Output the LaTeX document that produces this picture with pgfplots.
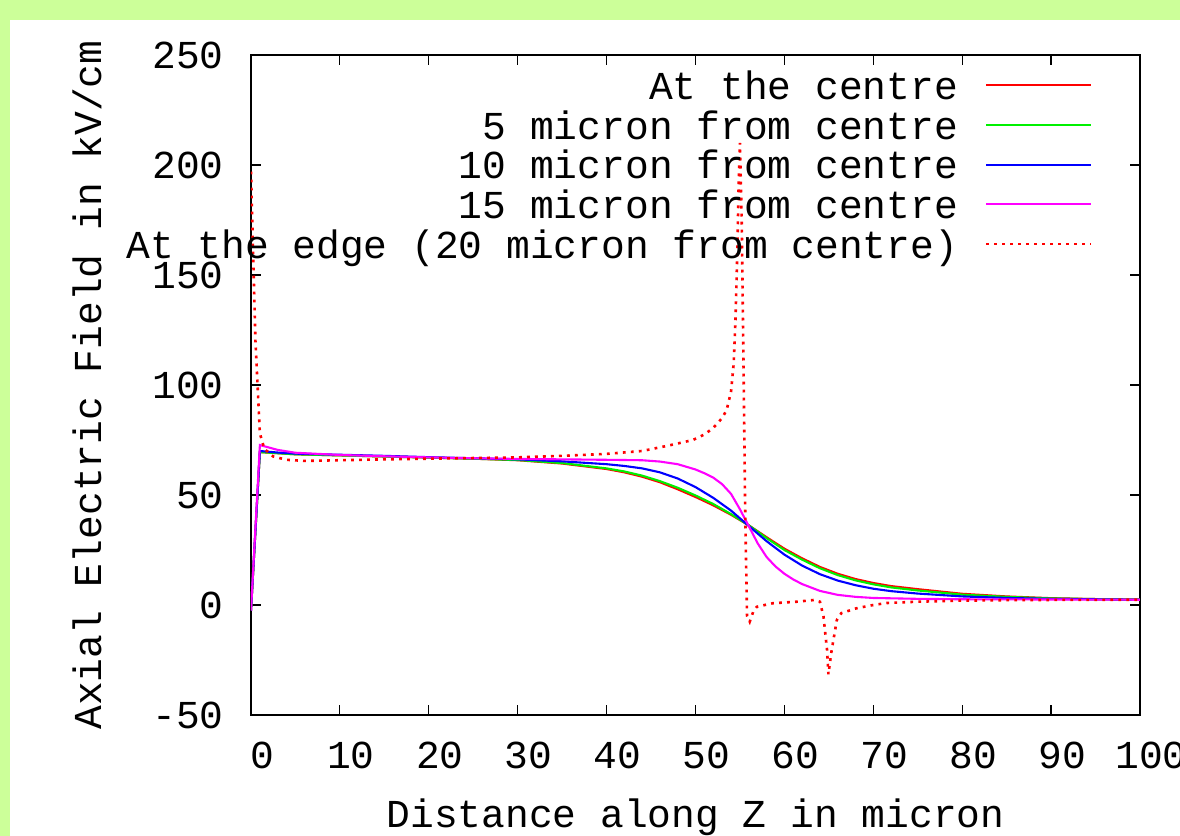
\documentclass[border=0pt]{standalone}
\usepackage{fontspec}
\setmainfont{Liberation Mono}
\usepackage{pgfplots}
\pgfplotsset{compat=1.18}
\definecolor{bggreen}{RGB}{204,255,153}
\definecolor{gpred}{RGB}{255,0,0}
\definecolor{gpgreen}{RGB}{0,240,0}
\definecolor{gpblue}{RGB}{0,0,255}
\definecolor{gpmag}{RGB}{255,0,255}
\begin{document}
\fontsize{19.8pt}{24pt}\selectfont
\begin{tikzpicture}[font=\fontsize{19.8pt}{24pt}\selectfont]
\fill[bggreen] (-125.5pt,-60.5pt) rectangle (464.5pt,357.5pt);
\fill[white] (-120.5pt,-60.5pt) rectangle (464.5pt,347.5pt);
\begin{axis}[
  at={(0pt,0pt)}, anchor=south west,
  scale only axis, width=444.5pt, height=330pt,
  xmin=0, xmax=100, ymin=-50, ymax=250,
  xtick={0,10,...,100},
  xticklabels={0,10,20,30,40,50,60,70,80,90,100},
  ytick={-50,0,50,100,150,200,250},
  yticklabels={-50,0,50,100,150,200,250},
  tick align=inside,
  major tick length=5pt,
  axis line style={line width=0.75pt},
  every tick/.style={black, line width=0.6pt},
  xticklabel style={anchor=center, inner sep=0pt, yshift=-20pt, xshift=5.5pt},
  yticklabel style={anchor=east, inner sep=0pt, xshift=-13.5pt},
  xlabel={Distance along Z in micron},
  ylabel={Axial Electric Field in kV/cm},
  xlabel style={at={(axis description cs:0.5,-0.1545)}, anchor=center, inner sep=0pt},
  ylabel style={at={(axis description cs:-0.184,0.5)}, anchor=center, inner sep=0pt},
  legend plot pos=right,
  legend cell align=right,
  legend style={draw=none, fill=none, at={(rel axis cs:1,1)}, anchor=north east,
    xshift=-20.5pt, yshift=-8pt, row sep=0pt, column sep=13.5pt,
    nodes={inner sep=0pt, text height=12pt, text depth=7.85pt}},
  legend image code/.code={\draw[#1] (0pt,5pt) -- (52.5pt,5pt);},
  every axis plot/.append style={line width=1.05pt},
]
\addplot[gpred] coordinates {
(0,-2.5) (1,69.5) (3,69) (5,68.5) (10,68) (15,67.5) (20,67) (25,66.5) (30,65.8)
(35,64.3) (40,61.8) (42,60.3) (44,58.3) (46,55.8) (48,52.6) (50,49.1) (52,45.3)
(54,41) (56,36.2) (58,30.8) (60,25.6) (62,21.2) (64,17.3) (66,14.2) (68,11.8)
(70,10.0) (72,8.6) (75,7.2) (80,5.1) (85,3.9) (90,3.1) (95,2.7) (100,2.5)};
\addlegendentry{At the centre}
\addplot[gpgreen] coordinates {
(0,-2.5) (1,69.5) (3,69) (5,68.5) (10,68) (15,67.5) (20,67) (25,66.5) (30,65.9)
(35,64.5) (40,62.1) (42,60.7) (44,58.8) (46,56.3) (48,53.3) (50,49.8) (52,45.9)
(54,41.3) (56,36.2) (58,30.4) (60,25.0) (62,20.6) (64,16.7) (66,13.6) (68,11.2)
(70,9.4) (72,8.0) (75,6.6) (80,4.7) (85,3.7) (90,3.0) (95,2.7) (100,2.5)};
\addlegendentry{5 micron from centre}
\addplot[gpblue] coordinates {
(0,-2.5) (1,70) (3,69.3) (5,68.8) (10,68.3) (15,67.8) (20,67.2) (25,66.7) (30,66.2)
(35,65.3) (40,64) (42,63.2) (44,62.1) (46,60.3) (48,57.5) (50,53.6) (52,48.7)
(54,42.9) (56,35.9) (58,29) (60,22.9) (62,17.9) (64,14) (66,11.1) (68,9)
(70,7.4) (72,6.3) (75,5.2) (80,3.9) (85,3.2) (90,2.8) (95,2.6) (100,2.4)};
\addlegendentry{10 micron from centre}
\addplot[gpmag] coordinates {
(0,-2.5) (1,72.7) (3,70.5) (5,69.2) (10,68.2) (15,67.6) (20,67.1) (25,66.7) (30,66.4)
(35,66.2) (40,66) (44,65.8) (46,65.2) (48,64) (50,61.6) (51,59.9) (52,57.9)
(53,54.9) (54,50.5) (55,43.5) (56,35.8) (57,28) (58,21.8) (59,17.5) (60,14.2)
(61,11.6) (62,9.5) (64,6.4) (66,4.6) (68,3.7) (70,3.2) (75,2.8) (80,2.6) (90,2.5) (100,2.4)};
\addlegendentry{15 micron from centre}
\addplot[gpred, line width=1.3pt, dash pattern=on 1.4pt off 2.6pt] coordinates {
(0,197) (0.5,120) (1,78) (1.5,71) (2.5,67.5) (4,66) (6,65.5) (10,65.8) (15,66.2)
(20,66.5) (25,66.8) (30,67.1) (35,67.8) (40,68.7) (44,70) (47,72.5) (49.7,75)
(51,77.5) (52,80.5) (53,85) (53.5,88.6) (54,97) (54.3,110) (54.5,130) (54.7,160)
(54.85,190) (55.0,210) (55.2,175) (55.4,110) (55.6,40) (55.8,-5) (56.1,-7.6)
(56.5,-3) (56.9,-0.8) (58.7,0.8) (61.4,1.5) (63.4,2.3) (64,1.5) (64.4,-5.3)
(64.8,-20.5) (64.95,-31.5) (65.3,-21) (65.9,-6.8) (66.4,-3.7) (68.1,-1.5)
(70,0) (71.5,0.9) (75,1.5) (80,2) (85,2.2) (90,2.3) (100,2.4)};
\addlegendentry{At the edge (20 micron from centre)}
\end{axis}
\pgfresetboundingbox
\useasboundingbox (-125.5pt,-60.5pt) rectangle (464.5pt,357.5pt);
\end{tikzpicture}
\end{document}
